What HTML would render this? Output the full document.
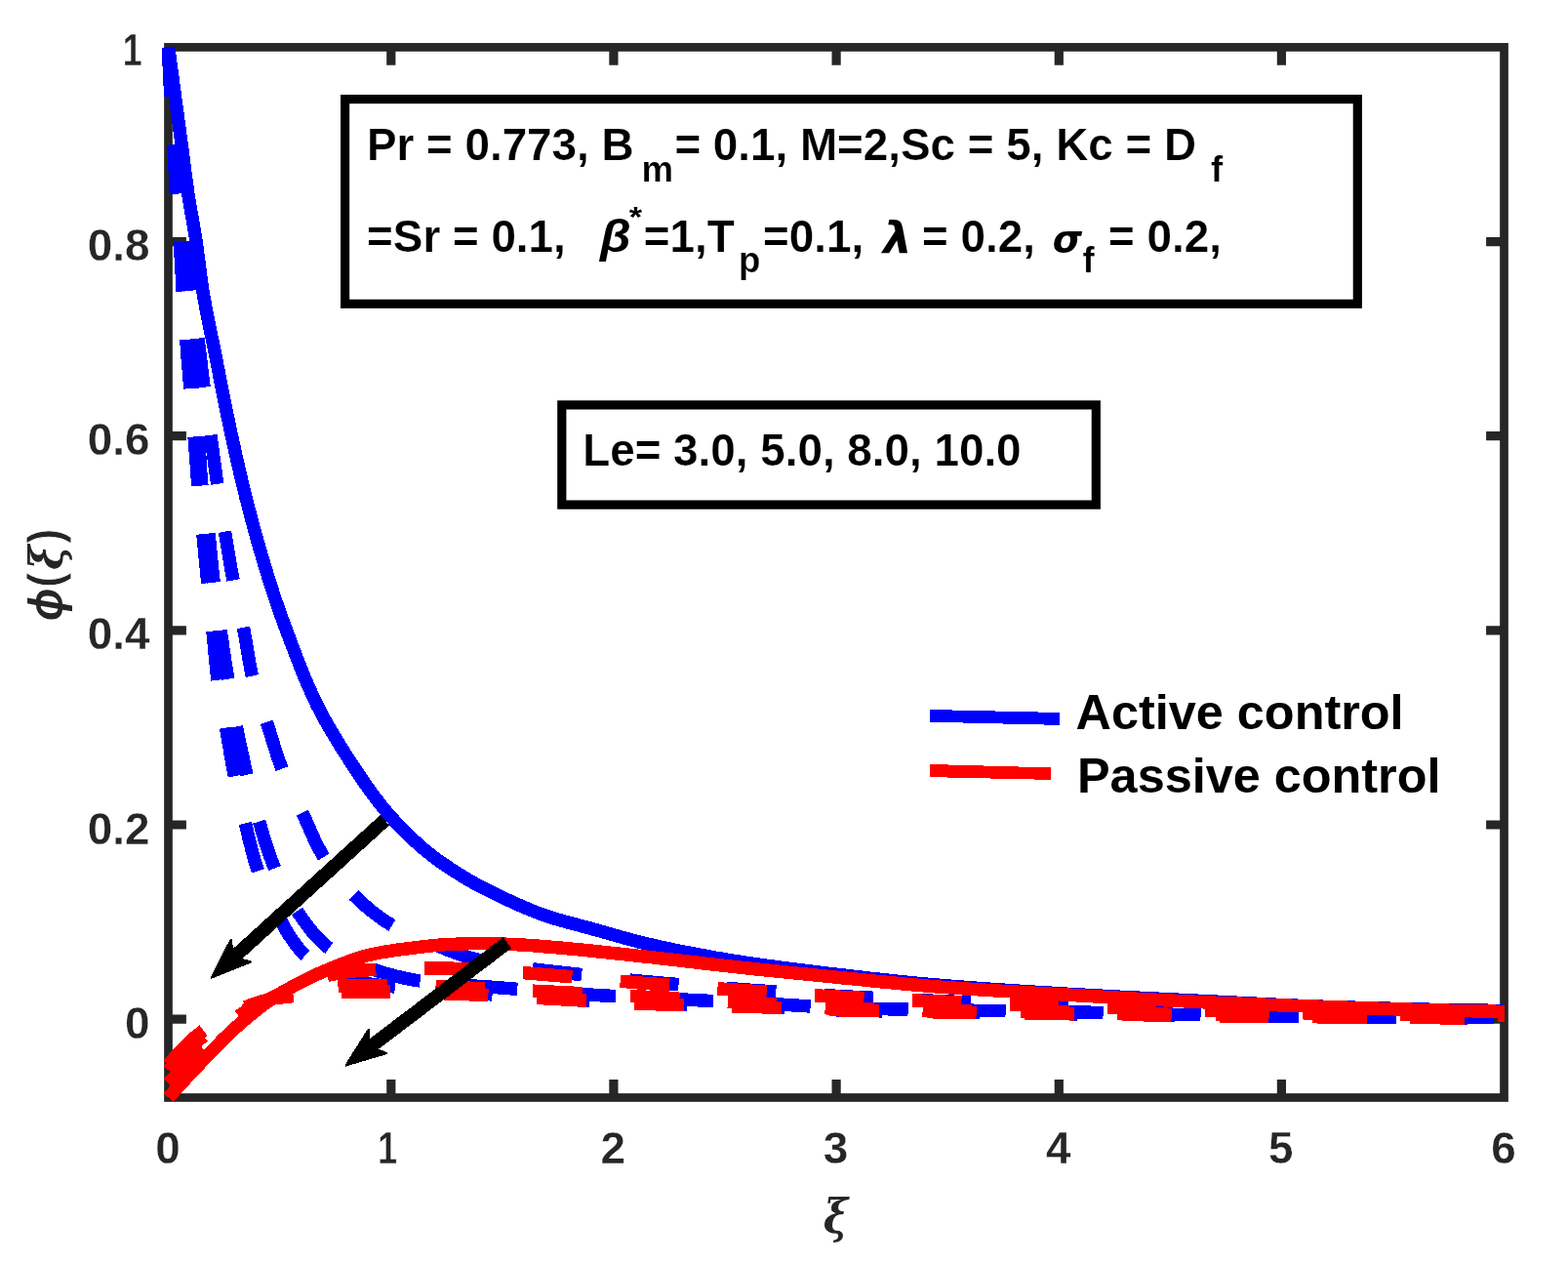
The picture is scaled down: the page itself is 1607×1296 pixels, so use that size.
<!DOCTYPE html>
<html lang="en"><head><meta charset="utf-8"><title>Concentration profile</title>
<style>
html,body{margin:0;padding:0;background:#fff;}
body{width:1607px;height:1296px;overflow:hidden;}
svg{display:block;}
text{font-family:"Liberation Sans","DejaVu Sans",sans-serif;font-weight:bold;}
.tk{font-size:45.8px;fill:#262626;}
.an{font-size:45.8px;fill:#000;}
.sb{font-size:36.7px;fill:#000;}
.lg{font-size:50.4px;fill:#000;}
.gr{font-style:italic;}
.an,.sb{stroke:#fff;stroke-width:0.2px;paint-order:fill stroke;}
.tk{stroke:#fff;stroke-width:0.3px;paint-order:fill stroke;}
.c{fill:none;stroke-width:13.5;stroke-linecap:butt;stroke-linejoin:round;shape-rendering:crispEdges;}
.ce{shape-rendering:crispEdges;}
.b{stroke:#0000ff;}.r{stroke:#ff0000;}
.d{stroke-dasharray:50.5 49.5;}
</style></head><body>
<svg width="1607" height="1296" viewBox="0 0 1607 1296">
<rect x="0" y="0" width="1607" height="1296" fill="#fff"/>
<g stroke="#262626" stroke-width="8.7" fill="none" stroke-linecap="butt">
<rect x="172.5" y="48.4" width="1369" height="1076.1"/>
<path stroke-width="9.2" d="M400.8 1124.5V1106.1M400.8 48.4V66.8M628.9 1124.5V1106.1M628.9 48.4V66.8M857.1 1124.5V1106.1M857.1 48.4V66.8M1085.3 1124.5V1106.1M1085.3 48.4V66.8M1313.4 1124.5V1106.1M1313.4 48.4V66.8M172.5 1044.2H190.9M1541.5 1044.2H1523.1M172.5 845H190.9M1541.5 845H1523.1M172.5 645.9H190.9M1541.5 645.9H1523.1M172.5 446.7H190.9M1541.5 446.7H1523.1M172.5 247.6H190.9M1541.5 247.6H1523.1"/>
</g>
<polyline class="c b" points="172.6,48.4 173.1,52.4 173.7,56.3 174.2,60.3 174.8,64.3 175.3,68.2 175.8,72.2 176.4,76.1 176.9,80.1 177.5,84.1 178,88 178.5,92 179.1,96 179.6,99.9 180.2,103.9 180.7,107.9 181.2,111.8 181.8,115.8 182.3,119.7 182.8,123.7 183.4,127.7 183.9,131.6 184.4,135.6 185,139.6 185.5,143.5 186,147.5 186.6,151.5 187.1,155.4 187.6,159.4 188.1,163.4 188.6,167.3 189.1,171.3 189.6,175.3 190.2,179.2 190.7,183.2 191.2,187.2 191.8,191.1 192.3,195.1 192.9,199 193.5,203 194.1,206.9 194.8,210.9 195.5,214.8 196.2,218.8 196.9,222.7 197.6,226.6 198.3,230.6 198.9,234.5 199.6,238.5 200.2,242.4 200.9,246.4 201.4,250.3 202,254.3 202.5,258.3 203.1,262.2 203.6,266.2 204.1,270.2 204.6,274.1 205.1,278.1 205.6,282.1 206.1,286 206.7,290 207.2,294 207.8,297.9 208.5,301.8 209.2,305.8 209.9,309.7 210.6,313.7 211.3,317.6 212.1,321.5 212.9,325.4 213.7,329.3 214.5,333.3 215.3,337.2 216.1,341.1 216.9,345 217.8,348.9 218.6,352.9 219.4,356.8 220.1,360.7 220.9,364.6 221.7,368.6 222.4,372.5 223.2,376.4 224,380.3 224.7,384.3 225.5,388.2 226.3,392.1 227,396 227.8,400 228.6,403.9 229.4,407.8 230.1,411.7 230.9,415.7 231.7,419.6 232.5,423.5 233.4,427.4 234.2,431.3 235,435.2 235.8,439.2 236.7,443.1 237.5,447 238.4,450.9 239.2,454.8 240.1,458.7 240.9,462.6 241.8,466.5 242.7,470.4 243.6,474.3 244.5,478.2 245.4,482.1 246.3,486 247.2,489.9 248.1,493.8 249.1,497.7 250,501.6 251,505.5 251.9,509.3 252.9,513.2 253.9,517.1 254.9,521 255.9,524.8 256.9,528.7 257.9,532.6 259,536.4 260,540.3 261.1,544.2 262.2,548 263.2,551.9 264.3,555.7 265.4,559.6 266.5,563.4 267.6,567.3 268.8,571.1 269.9,574.9 271,578.8 272.2,582.6 273.4,586.4 274.5,590.3 275.7,594.1 276.9,597.9 278.2,601.7 279.4,605.5 280.6,609.3 281.9,613.1 283.2,616.9 284.5,620.6 285.8,624.4 287.1,628.2 288.5,632 289.8,635.7 291.2,639.5 292.6,643.2 294,647 295.4,650.7 296.8,654.5 298.2,658.2 299.6,662 301.1,665.7 302.5,669.4 303.9,673.2 305.4,676.9 306.8,680.6 308.3,684.3 309.8,688.1 311.3,691.8 312.8,695.5 314.4,699.2 316,702.8 317.6,706.5 319.2,710.1 320.9,713.8 322.6,717.4 324.3,721 326.1,724.6 327.9,728.2 329.7,731.7 331.6,735.2 333.6,738.7 335.6,742.2 337.6,745.6 339.6,749.1 341.7,752.5 343.8,756 345.8,759.4 347.9,762.8 350,766.2 352.2,769.6 354.3,772.9 356.5,776.3 358.6,779.7 360.8,783 363,786.4 365.2,789.7 367.5,793 369.7,796.4 371.9,799.7 374.2,802.9 376.5,806.2 378.9,809.5 381.2,812.7 383.6,815.9 386,819.1 388.5,822.3 390.9,825.4 393.5,828.6 396,831.6 398.6,834.6 401.3,837.6 404,840.5 406.7,843.5 409.5,846.4 412.3,849.3 415.1,852.1 418,854.9 420.9,857.7 423.8,860.5 426.8,863.2 429.7,865.9 432.8,868.5 435.8,871.1 438.9,873.6 442,876 445.1,878.4 448.3,880.8 451.6,883.2 454.9,885.5 458.2,887.7 461.5,890 464.9,892.2 468.3,894.3 471.7,896.4 475.1,898.5 478.6,900.5 482,902.5 485.5,904.5 489,906.4 492.5,908.3 496.1,910.2 499.6,912 503.2,913.8 506.8,915.6 510.4,917.3 514,919.1 517.7,920.8 521.3,922.4 524.9,924.1 528.6,925.7 532.2,927.4 535.9,929 539.6,930.6 543.3,932.1 547,933.6 550.7,935.1 554.5,936.5 558.2,937.8 562,939.1 565.8,940.3 569.6,941.5 573.4,942.6 577.3,943.7 581.1,944.7 585,945.8 588.9,946.8 592.8,947.8 596.6,948.9 600.5,949.9 604.4,950.9 608.2,952 612.1,953 616,954.1 619.8,955.2 623.6,956.3 627.5,957.4 631.3,958.5 635.2,959.6 639,960.7 642.9,961.8 646.8,962.8 650.6,963.8 654.5,964.8 658.4,965.8 662.3,966.7 666.2,967.6 670.1,968.5 674,969.4 677.9,970.3 681.8,971.1 685.7,972 689.6,972.8 693.5,973.6 697.4,974.4 701.4,975.2 705.3,975.9 709.2,976.7 713.2,977.4 717.1,978.2 721,978.9 724.9,979.6 728.9,980.4 732.8,981.1 736.8,981.7 740.7,982.4 744.7,983.1 748.6,983.7 752.5,984.4 756.5,985 760.5,985.6 764.4,986.2 768.4,986.8 772.3,987.4 776.3,987.9 780.2,988.5 784.2,989 788.2,989.6 792.1,990.1 796.1,990.7 800.1,991.2 804,991.7 808,992.2 812,992.7 815.9,993.2 819.9,993.7 823.9,994.2 827.8,994.7 831.8,995.2 835.8,995.7 839.8,996.2 843.7,996.6 847.7,997.1 851.7,997.6 855.6,998 859.6,998.5 863.6,999 867.6,999.4 871.5,999.9 875.5,1000.3 879.5,1000.8 883.5,1001.3 887.4,1001.7 891.4,1002.2 895.4,1002.6 899.4,1003 903.3,1003.5 907.3,1003.9 911.3,1004.4 915.3,1004.8 919.3,1005.2 923.2,1005.6 927.2,1006 931.2,1006.4 935.2,1006.8 939.2,1007.2 943.1,1007.6 947.1,1007.9 951.1,1008.3 955.1,1008.7 959.1,1009 963,1009.3 967,1009.7 971,1010 975,1010.3 979,1010.6 983,1010.9 987,1011.2 991,1011.5 994.9,1011.8 998.9,1012.1 1002.9,1012.4 1006.9,1012.7 1010.9,1013 1014.9,1013.3 1018.9,1013.5 1022.9,1013.8 1026.9,1014.1 1030.9,1014.3 1034.9,1014.6 1038.9,1014.9 1042.8,1015.1 1046.8,1015.4 1050.8,1015.6 1054.8,1015.9 1058.8,1016.1 1062.8,1016.4 1066.8,1016.6 1070.8,1016.9 1074.8,1017.1 1078.8,1017.3 1082.8,1017.6 1086.8,1017.8 1090.8,1018 1094.7,1018.3 1098.7,1018.5 1102.7,1018.7 1106.7,1019 1110.7,1019.2 1114.7,1019.4 1118.7,1019.6 1122.7,1019.9 1126.7,1020.1 1130.7,1020.3 1134.7,1020.5 1138.7,1020.7 1142.7,1020.9 1146.7,1021.2 1150.7,1021.4 1154.7,1021.6 1158.6,1021.8 1162.6,1022 1166.6,1022.2 1170.6,1022.4 1174.6,1022.6 1178.6,1022.8 1182.6,1023 1186.6,1023.2 1190.6,1023.4 1194.6,1023.6 1198.6,1023.8 1202.6,1024 1206.6,1024.2 1210.6,1024.4 1214.6,1024.6 1218.6,1024.8 1222.6,1025 1226.6,1025.2 1230.6,1025.4 1234.6,1025.6 1238.6,1025.8 1242.5,1026 1246.5,1026.2 1250.5,1026.4 1254.5,1026.6 1258.5,1026.8 1262.5,1027 1266.5,1027.2 1270.5,1027.4 1274.5,1027.6 1278.5,1027.8 1282.5,1028 1286.5,1028.2 1290.5,1028.4 1294.5,1028.6 1298.5,1028.8 1302.5,1029 1306.5,1029.2 1310.5,1029.4 1314.5,1029.6 1318.5,1029.8 1322.5,1029.9 1326.4,1030.1 1330.4,1030.3 1334.4,1030.5 1338.4,1030.6 1342.4,1030.8 1346.4,1030.9 1350.4,1031.1 1354.4,1031.2 1358.4,1031.4 1362.4,1031.5 1366.4,1031.6 1370.4,1031.7 1374.4,1031.8 1378.4,1032 1382.4,1032.1 1386.4,1032.2 1390.4,1032.3 1394.4,1032.4 1398.4,1032.6 1402.4,1032.7 1406.4,1032.8 1410.4,1032.9 1414.4,1033 1418.4,1033.1 1422.4,1033.2 1426.4,1033.3 1430.4,1033.4 1434.4,1033.5 1438.4,1033.6 1442.4,1033.7 1446.4,1033.8 1450.4,1033.9 1454.4,1034 1458.4,1034.1 1462.4,1034.2 1466.4,1034.3 1470.4,1034.4 1474.4,1034.5 1478.4,1034.5 1482.4,1034.6 1486.4,1034.7 1490.4,1034.8 1494.4,1034.8 1498.4,1034.9 1502.4,1035 1506.4,1035 1510.4,1035.1 1514.4,1035.1 1518.4,1035.2 1522.4,1035.2 1526.4,1035.3 1530.4,1035.3 1534.4,1035.3 1538.4,1035.4 1541.5,1035.4"/>
<polyline class="c b" stroke-dasharray="50.5 49.5 50.5 49.5 50.5 49.5 50.5 49.5 50.5 49.5 50.5 49.5 50.5 49.5 50.5 49.5 50.5 49.5 50.5 49.5 50.5 51.9 50.5 49.5 50.5 49.5 50.5 49.5 50.5 49.5 50.5 49.5 50.5 49.5 50.5 49.5 50.5 49.5 50.5 49.5 50.5 49.5 50.5 49.5" points="172.6,48.4 172.7,52.4 172.9,56.4 173,60.4 173.1,64.4 173.3,68.5 173.5,72.5 173.7,76.5 173.9,80.5 174.1,84.5 174.3,88.5 174.5,92.5 174.7,96.5 175,100.5 175.2,104.5 175.5,108.5 175.8,112.5 176,116.5 176.3,120.5 176.6,124.5 176.9,128.5 177.2,132.5 177.5,136.4 177.9,140.4 178.2,144.4 178.5,148.4 178.9,152.4 179.2,156.4 179.6,160.4 179.9,164.4 180.3,168.3 180.7,172.3 181.1,176.3 181.5,180.3 181.8,184.3 182.2,188.2 182.7,192.2 183.1,196.2 183.5,200.2 183.9,204.2 184.3,208.1 184.8,212.1 185.2,216.1 185.6,220.1 186.1,224 186.5,228 187,232 187.4,235.9 187.9,239.9 188.3,243.9 188.8,247.9 189.3,251.8 189.7,255.8 190.2,259.8 190.7,263.7 191.2,267.7 191.6,271.7 192.1,275.6 192.6,279.6 193.1,283.5 193.6,287.5 194.1,291.5 194.5,295.4 195,299.4 195.6,303.4 196.2,307.3 196.8,311.3 197.4,315.2 198.1,319.1 198.8,323.1 199.5,327 200.2,331 200.9,334.9 201.6,338.9 202.2,342.8 202.8,346.8 203.4,350.7 203.9,354.7 204.4,358.7 204.9,362.6 205.4,366.6 205.9,370.6 206.3,374.5 206.8,378.5 207.3,382.5 207.8,386.5 208.2,390.4 208.7,394.4 209.2,398.4 209.8,402.3 210.3,406.3 210.8,410.3 211.4,414.2 211.9,418.2 212.5,422.1 213.1,426.1 213.6,430.1 214.2,434 214.7,438 215.3,441.9 215.8,445.9 216.4,449.9 216.9,453.8 217.5,457.8 218,461.8 218.5,465.7 219.1,469.7 219.6,473.7 220.2,477.6 220.7,481.6 221.3,485.5 221.8,489.5 222.4,493.5 223,497.4 223.6,501.4 224.1,505.3 224.8,509.3 225.4,513.2 226,517.2 226.6,521.1 227.2,525.1 227.9,529 228.5,533 229.2,536.9 229.8,540.9 230.5,544.8 231.1,548.8 231.8,552.7 232.4,556.7 233.1,560.6 233.7,564.6 234.4,568.5 235.1,572.5 235.8,576.4 236.4,580.3 237.1,584.3 237.9,588.2 238.6,592.1 239.3,596.1 240.1,600 240.9,603.9 241.7,607.8 242.6,611.7 243.4,615.6 244.3,619.5 245.2,623.5 246,627.4 246.9,631.3 247.8,635.2 248.6,639.1 249.4,643 250.2,646.9 250.9,650.9 251.6,654.8 252.3,658.8 253,662.7 253.6,666.7 254.3,670.6 254.9,674.6 255.6,678.5 256.4,682.4 257.1,686.4 257.9,690.3 258.8,694.1 259.7,698 260.8,701.9 261.9,705.7 263.1,709.5 264.3,713.3 265.6,717.1 266.9,720.9 268.2,724.7 269.5,728.5 270.8,732.3 272.1,736.1 273.4,739.9 274.6,743.7 275.8,747.5 277,751.3 278.2,755.2 279.4,759 280.5,762.8 281.7,766.6 283,770.5 284.2,774.3 285.5,778.1 286.8,781.8 288.2,785.6 289.6,789.3 291.1,793 292.6,796.7 294.2,800.3 295.9,803.9 297.6,807.6 299.3,811.2 301.1,814.8 302.9,818.4 304.6,822 306.4,825.6 308.2,829.2 309.9,832.8 311.6,836.4 313.3,840.1 314.9,843.7 316.6,847.4 318.2,851.1 319.9,854.8 321.5,858.4 323.2,862.1 325,865.7 326.8,869.2 328.7,872.7 330.6,876.1 332.6,879.5 334.8,882.9 337,886.2 339.3,889.5 341.6,892.7 344.1,896 346.6,899.2 349.1,902.3 351.7,905.4 354.4,908.4 357.1,911.4 359.8,914.3 362.6,917.1 365.4,919.8 368.3,922.6 371.2,925.3 374.3,927.9 377.3,930.6 380.5,933.2 383.7,935.7 386.9,938.1 390.2,940.5 393.5,942.8 396.8,944.9 400.2,947 403.5,949 407,950.9 410.5,952.7 414.1,954.4 417.7,956.1 421.4,957.7 425.1,959.3 428.9,960.8 432.6,962.3 436.3,963.8 440.1,965.3 443.8,966.9 447.5,968.4 451.2,970 454.9,971.5 458.6,973.1 462.3,974.5 466,975.9 469.8,977.2 473.6,978.5 477.4,979.7 481.2,980.9 485.1,981.9 489,982.9 492.9,983.9 496.8,984.8 500.7,985.6 504.6,986.4 508.5,987.2 512.4,987.9 516.4,988.6 520.3,989.3 524.3,989.9 528.2,990.5 532.2,991.1 536.2,991.7 540.1,992.2 544.1,992.7 548.1,993.1 552,993.6 556,994.1 560,994.5 564,994.9 567.9,995.4 571.9,995.8 575.9,996.3 579.9,996.8 583.8,997.2 587.8,997.7 591.8,998.1 595.8,998.6 599.7,999 603.7,999.5 607.7,1000 611.7,1000.4 615.6,1000.8 619.6,1001.3 623.6,1001.7 627.6,1002.2 631.5,1002.6 635.5,1003 639.5,1003.4 643.5,1003.8 647.5,1004.2 651.4,1004.6 655.4,1005 659.4,1005.4 663.4,1005.7 667.4,1006.1 671.3,1006.5 675.3,1006.8 679.3,1007.2 683.3,1007.5 687.3,1007.9 691.3,1008.2 695.3,1008.5 699.2,1008.9 703.2,1009.2 707.2,1009.5 711.2,1009.8 715.2,1010.1 719.2,1010.4 723.2,1010.8 727.2,1011.1 731.1,1011.4 735.1,1011.7 739.1,1012 743.1,1012.3 747.1,1012.6 751.1,1012.9 755.1,1013.2 759.1,1013.5 763.1,1013.8 767,1014.1 771,1014.4 775,1014.6 779,1014.9 783,1015.2 787,1015.5 791,1015.8 795,1016.1 799,1016.4 803,1016.7 806.9,1017 810.9,1017.3 814.9,1017.6 818.9,1017.9 822.9,1018.2 826.9,1018.4 830.9,1018.7 834.9,1019 838.9,1019.2 842.9,1019.5 846.8,1019.7 850.8,1020 854.8,1020.2 858.8,1020.4 862.8,1020.7 866.8,1020.9 870.8,1021.1 874.8,1021.3 878.8,1021.5 882.8,1021.7 886.8,1021.9 890.8,1022.1 894.8,1022.3 898.8,1022.5 902.8,1022.7 906.8,1022.9 910.7,1023.1 914.7,1023.3 918.7,1023.5 922.7,1023.7 926.7,1023.9 930.7,1024.1 934.7,1024.3 938.7,1024.5 942.7,1024.7 946.7,1024.9 950.7,1025 954.7,1025.2 958.7,1025.4 962.7,1025.6 966.7,1025.8 970.7,1025.9 974.7,1026.1 978.7,1026.3 982.7,1026.5 986.7,1026.6 990.7,1026.8 994.7,1027 998.7,1027.1 1002.7,1027.3 1006.7,1027.5 1010.6,1027.6 1014.6,1027.8 1018.6,1028 1022.6,1028.1 1026.6,1028.3 1030.6,1028.4 1034.6,1028.6 1038.6,1028.8 1042.6,1028.9 1046.6,1029.1 1050.6,1029.2 1054.6,1029.4 1058.6,1029.5 1062.6,1029.7 1066.6,1029.8 1070.6,1030 1074.6,1030.1 1078.6,1030.3 1082.6,1030.4 1086.6,1030.5 1090.6,1030.7 1094.6,1030.8 1098.6,1031 1102.6,1031.1 1106.6,1031.2 1110.6,1031.4 1114.6,1031.5 1118.6,1031.6 1122.6,1031.8 1126.6,1031.9 1130.6,1032 1134.6,1032.2 1138.6,1032.3 1142.6,1032.4 1146.6,1032.6 1150.6,1032.7 1154.6,1032.8 1158.6,1033 1162.6,1033.1 1166.6,1033.2 1170.6,1033.3 1174.6,1033.5 1178.6,1033.6 1182.6,1033.7 1186.5,1033.8 1190.5,1034 1194.5,1034.1 1198.5,1034.2 1202.5,1034.3 1206.5,1034.4 1210.5,1034.6 1214.5,1034.7 1218.5,1034.8 1222.5,1034.9 1226.5,1035 1230.5,1035.1 1234.5,1035.3 1238.5,1035.4 1242.5,1035.5 1246.5,1035.6 1250.5,1035.7 1254.5,1035.8 1258.5,1035.9 1262.5,1036 1266.5,1036.1 1270.5,1036.2 1274.5,1036.3 1278.5,1036.4 1282.5,1036.6 1286.5,1036.7 1290.5,1036.7 1294.5,1036.8 1298.5,1036.9 1302.5,1037 1306.5,1037.1 1310.5,1037.2 1314.5,1037.3 1318.5,1037.4 1322.5,1037.5 1326.5,1037.6 1330.5,1037.6 1334.5,1037.7 1338.5,1037.8 1342.5,1037.9 1346.5,1038 1350.5,1038 1354.5,1038.1 1358.5,1038.2 1362.5,1038.2 1366.5,1038.3 1370.5,1038.4 1374.5,1038.4 1378.5,1038.5 1382.5,1038.6 1386.5,1038.6 1390.5,1038.7 1394.5,1038.8 1398.5,1038.8 1402.5,1038.9 1406.5,1039 1410.5,1039 1414.5,1039.1 1418.5,1039.1 1422.5,1039.2 1426.5,1039.3 1430.5,1039.3 1434.5,1039.4 1438.5,1039.4 1442.5,1039.5 1446.5,1039.5 1450.5,1039.6 1454.5,1039.6 1458.5,1039.7 1462.5,1039.7 1466.5,1039.8 1470.5,1039.8 1474.5,1039.9 1478.5,1039.9 1482.5,1040 1486.5,1040 1490.5,1040.1 1494.5,1040.1 1498.5,1040.1 1502.5,1040.2 1506.5,1040.2 1510.5,1040.3 1514.5,1040.3 1518.5,1040.3 1522.5,1040.4 1526.5,1040.4 1530.5,1040.4 1534.5,1040.5 1538.5,1040.5 1541.5,1040.5"/>
<polyline class="c b" stroke-dasharray="50.5 49.5 50.5 49.5 50.5 49.5 50.5 49.5 50.5 49.5 50.5 49.5 50.5 49.5 50.5 49.5 50.5 49.5 50.5 49.5 50.5 49.5 50.5 50.5 50.5 49.5 50.5 49.5 50.5 49.5 50.5 49.5 50.5 49.5 50.5 49.5 50.5 49.5 50.5 49.5 50.5 49.5 50.5 49.5 50.5 49.5" points="172.6,48.4 172.9,52.4 173.2,56.4 173.5,60.4 173.8,64.4 174.1,68.3 174.4,72.3 174.7,76.3 175,80.3 175.3,84.3 175.5,88.3 175.8,92.3 176.1,96.3 176.4,100.3 176.7,104.2 177,108.2 177.3,112.2 177.6,116.2 177.9,120.2 178.2,124.2 178.5,128.2 178.8,132.2 179.1,136.2 179.4,140.1 179.7,144.1 180,148.1 180.3,152.1 180.6,156.1 180.9,160.1 181.2,164.1 181.6,168.1 181.9,172.1 182.2,176 182.5,180 182.8,184 183.1,188 183.4,192 183.7,196 184,200 184.3,204 184.6,207.9 184.9,211.9 185.2,215.9 185.5,219.9 185.8,223.9 186.1,227.9 186.4,231.9 186.8,235.9 187.1,239.9 187.4,243.8 187.7,247.8 188,251.8 188.3,255.8 188.6,259.8 188.9,263.8 189.2,267.8 189.5,271.8 189.8,275.7 190.2,279.7 190.5,283.7 190.8,287.7 191.1,291.7 191.4,295.7 191.7,299.7 192,303.7 192.3,307.7 192.6,311.6 193,315.6 193.3,319.6 193.6,323.6 193.9,327.6 194.2,331.6 194.5,335.6 194.8,339.6 195.1,343.5 195.5,347.5 195.8,351.5 196.1,355.5 196.4,359.5 196.7,363.5 197,367.5 197.4,371.5 197.7,375.4 198,379.4 198.3,383.4 198.6,387.4 199,391.4 199.3,395.4 199.6,399.4 199.9,403.3 200.3,407.3 200.6,411.3 200.9,415.3 201.3,419.3 201.6,423.3 201.9,427.3 202.3,431.3 202.6,435.2 202.9,439.2 203.2,443.2 203.5,447.2 203.8,451.2 204.1,455.2 204.3,459.2 204.5,463.2 204.8,467.2 205,471.2 205.2,475.2 205.5,479.2 205.7,483.2 206,487.1 206.3,491.1 206.6,495.1 207,499.1 207.4,503.1 207.9,507 208.5,511 209,514.9 209.6,518.9 210.3,522.8 210.9,526.8 211.5,530.8 212.1,534.7 212.7,538.7 213.3,542.6 213.8,546.6 214.3,550.6 214.8,554.5 215.2,558.5 215.6,562.5 216,566.5 216.4,570.5 216.8,574.4 217.2,578.4 217.6,582.4 218,586.4 218.4,590.4 218.9,594.3 219.4,598.3 219.9,602.3 220.4,606.2 220.9,610.2 221.5,614.2 222,618.1 222.6,622.1 223.2,626 223.8,630 224.4,634 225,637.9 225.5,641.9 226.1,645.8 226.7,649.8 227.3,653.7 227.9,657.7 228.4,661.7 229,665.6 229.6,669.6 230.2,673.5 230.8,677.5 231.4,681.4 232.1,685.4 232.7,689.3 233.3,693.3 234,697.2 234.6,701.2 235.3,705.1 236,709.1 236.6,713 237.3,716.9 238,720.9 238.7,724.8 239.4,728.8 240.2,732.7 240.9,736.6 241.6,740.6 242.4,744.5 243.2,748.4 243.9,752.3 244.7,756.3 245.5,760.2 246.3,764.1 247.2,768 248,771.9 248.9,775.8 249.7,779.7 250.6,783.6 251.5,787.5 252.4,791.4 253.3,795.3 254.3,799.2 255.2,803.1 256.2,807 257.2,810.9 258.2,814.7 259.2,818.6 260.2,822.5 261.3,826.3 262.3,830.2 263.4,834 264.5,837.9 265.7,841.7 266.8,845.5 267.9,849.4 269.1,853.2 270.2,857.1 271.4,860.9 272.6,864.7 273.9,868.6 275.1,872.4 276.4,876.1 277.8,879.9 279.2,883.6 280.6,887.3 282.1,891 283.7,894.7 285.3,898.3 287,902 288.7,905.6 290.5,909.3 292.4,912.8 294.3,916.4 296.3,919.9 298.3,923.4 300.3,926.8 302.4,930.2 304.6,933.5 306.8,936.8 309.1,940.1 311.4,943.4 313.9,946.7 316.4,950 318.9,953.3 321.6,956.4 324.3,959.5 327,962.4 329.9,965.2 332.8,967.9 335.7,970.3 338.8,972.5 341.9,974.6 345.2,976.7 348.6,978.7 352.1,980.6 355.7,982.4 359.4,984.2 363.2,985.8 367,987.4 370.8,989 374.6,990.4 378.4,991.8 382.3,993.1 386.1,994.4 389.8,995.5 393.6,996.7 397.5,997.8 401.3,998.9 405.2,999.9 409.2,1000.9 413.1,1001.8 417,1002.6 421,1003.4 424.9,1004.1 428.8,1004.7 432.8,1005.2 436.7,1005.7 440.7,1006.2 444.6,1006.6 448.6,1007 452.6,1007.4 456.5,1007.8 460.5,1008.1 464.5,1008.5 468.5,1008.8 472.5,1009.1 476.5,1009.4 480.5,1009.7 484.5,1010 488.5,1010.2 492.5,1010.5 496.5,1010.8 500.5,1011.1 504.5,1011.3 508.5,1011.6 512.5,1011.9 516.5,1012.2 520.5,1012.5 524.5,1012.9 528.5,1013.2 532.4,1013.5 536.4,1013.8 540.4,1014.2 544.4,1014.5 548.4,1014.8 552.4,1015.1 556.4,1015.4 560.4,1015.8 564.3,1016.1 568.3,1016.4 572.3,1016.7 576.3,1017 580.3,1017.3 584.3,1017.6 588.3,1017.9 592.3,1018.2 596.3,1018.5 600.2,1018.7 604.2,1019 608.2,1019.3 612.2,1019.5 616.2,1019.8 620.2,1020 624.2,1020.2 628.2,1020.5 632.2,1020.7 636.2,1020.9 640.2,1021.1 644.2,1021.3 648.2,1021.5 652.2,1021.7 656.2,1021.9 660.1,1022.1 664.1,1022.3 668.1,1022.5 672.1,1022.7 676.1,1022.9 680.1,1023.1 684.1,1023.3 688.1,1023.4 692.1,1023.6 696.1,1023.8 700.1,1024 704.1,1024.2 708.1,1024.4 712.1,1024.6 716.1,1024.8 720.1,1025 724.1,1025.2 728.1,1025.4 732.1,1025.6 736.1,1025.8 740.1,1026 744.1,1026.2 748,1026.4 752,1026.6 756,1026.8 760,1027 764,1027.2 768,1027.4 772,1027.6 776,1027.8 780,1028 784,1028.2 788,1028.4 792,1028.6 796,1028.8 800,1029.1 804,1029.3 808,1029.6 812,1029.8 816,1030.1 819.9,1030.3 823.9,1030.6 827.9,1030.8 831.9,1031.1 835.9,1031.3 839.9,1031.5 843.9,1031.7 847.9,1031.9 851.9,1032.1 855.9,1032.3 859.9,1032.4 863.9,1032.5 867.9,1032.6 871.9,1032.8 875.9,1032.9 879.9,1033 883.9,1033.1 887.9,1033.2 891.9,1033.3 895.9,1033.4 899.9,1033.5 903.9,1033.6 907.9,1033.7 911.9,1033.8 915.8,1033.8 919.8,1033.9 923.8,1034 927.8,1034.1 931.8,1034.2 935.8,1034.3 939.8,1034.3 943.8,1034.4 947.8,1034.5 951.8,1034.5 955.8,1034.6 959.8,1034.7 963.8,1034.7 967.8,1034.8 971.8,1034.9 975.8,1034.9 979.8,1035 983.8,1035.1 987.8,1035.1 991.8,1035.2 995.8,1035.2 999.8,1035.3 1003.8,1035.4 1007.8,1035.4 1011.8,1035.5 1015.8,1035.5 1019.8,1035.6 1023.8,1035.7 1027.8,1035.7 1031.8,1035.8 1035.8,1035.8 1039.8,1035.9 1043.8,1036 1047.8,1036 1051.8,1036.1 1055.8,1036.1 1059.8,1036.2 1063.8,1036.3 1067.8,1036.3 1071.8,1036.4 1075.8,1036.5 1079.8,1036.5 1083.8,1036.6 1087.8,1036.7 1091.8,1036.7 1095.8,1036.8 1099.8,1036.9 1103.8,1037 1107.8,1037.1 1111.8,1037.1 1115.8,1037.2 1119.8,1037.3 1123.8,1037.4 1127.8,1037.5 1131.8,1037.6 1135.8,1037.7 1139.8,1037.8 1143.8,1037.9 1147.8,1038 1151.8,1038.1 1155.8,1038.2 1159.8,1038.3 1163.8,1038.4 1167.8,1038.5 1171.8,1038.6 1175.8,1038.7 1179.8,1038.8 1183.8,1038.9 1187.8,1038.9 1191.8,1039 1195.8,1039.1 1199.8,1039.2 1203.8,1039.3 1207.8,1039.4 1211.8,1039.4 1215.8,1039.5 1219.8,1039.6 1223.8,1039.7 1227.8,1039.7 1231.8,1039.8 1235.8,1039.9 1239.8,1039.9 1243.8,1040 1247.8,1040.1 1251.8,1040.1 1255.8,1040.2 1259.8,1040.2 1263.8,1040.3 1267.8,1040.4 1271.8,1040.4 1275.8,1040.5 1279.8,1040.5 1283.8,1040.6 1287.8,1040.7 1291.8,1040.7 1295.8,1040.8 1299.8,1040.8 1303.8,1040.9 1307.8,1040.9 1311.8,1041 1315.8,1041 1319.8,1041.1 1323.8,1041.1 1327.8,1041.2 1331.8,1041.2 1335.8,1041.3 1339.8,1041.3 1343.8,1041.3 1347.8,1041.4 1351.8,1041.4 1355.8,1041.5 1359.8,1041.5 1363.8,1041.5 1367.8,1041.6 1371.8,1041.6 1375.8,1041.6 1379.8,1041.7 1383.8,1041.7 1387.8,1041.7 1391.8,1041.8 1395.8,1041.8 1399.8,1041.8 1403.8,1041.9 1407.8,1041.9 1411.8,1041.9 1415.8,1042 1419.8,1042 1423.8,1042 1427.8,1042.1 1431.8,1042.1 1435.8,1042.1 1439.8,1042.2 1443.8,1042.2 1447.8,1042.2 1451.8,1042.3 1455.8,1042.3 1459.8,1042.3 1463.8,1042.3 1467.8,1042.4 1471.8,1042.4 1475.8,1042.4 1479.8,1042.4 1483.8,1042.5 1487.8,1042.5 1491.8,1042.5 1495.8,1042.5 1499.8,1042.5 1503.8,1042.6 1507.8,1042.6 1511.8,1042.6 1515.8,1042.6 1519.8,1042.6 1523.8,1042.6 1527.8,1042.7 1531.8,1042.7 1535.8,1042.7 1539.8,1042.7 1541.5,1042.7"/>
<polyline class="c b" stroke-dasharray="50.5 49.5 50.5 49.5 50.5 49.5 50.5 49.5 50.5 49.5 50.5 49.5 50.5 49.5 50.5 49.5 50.5 49.5 50.5 49.5 50.5 49.5 50.5 49.5 50.5 49.5 50.5 49.5 50.5 49.5 50.5 49.5 50.5 49.5 50.5 49.5 50.5 49.5 50.5 49.5 50.5 49.5 50.5 49.5 50.5 49.5" points="172.6,48.4 172.8,52.4 173.1,56.4 173.3,60.4 173.5,64.4 173.7,68.4 174,72.4 174.2,76.4 174.4,80.3 174.6,84.3 174.8,88.3 175.1,92.3 175.3,96.3 175.5,100.3 175.7,104.3 175.9,108.3 176.1,112.3 176.3,116.3 176.6,120.3 176.8,124.3 177,128.3 177.2,132.3 177.4,136.3 177.6,140.3 177.8,144.3 178,148.3 178.2,152.2 178.4,156.2 178.6,160.2 178.8,164.2 179,168.2 179.1,172.2 179.3,176.2 179.5,180.2 179.7,184.2 179.9,188.2 180.1,192.2 180.3,196.2 180.6,200.2 180.8,204.2 181.1,208.2 181.4,212.2 181.7,216.1 182.1,220.1 182.4,224.1 182.7,228.1 183,232.1 183.4,236.1 183.7,240.1 184,244.1 184.3,248 184.5,252 184.8,256 185,260 185.3,264 185.5,268 185.7,272 186,276 186.2,280 186.4,284 186.7,288 186.9,292 187.1,296 187.4,300 187.7,303.9 187.9,307.9 188.2,311.9 188.5,315.9 188.8,319.9 189,323.9 189.3,327.9 189.6,331.9 189.9,335.9 190.2,339.9 190.5,343.8 190.8,347.8 191.1,351.8 191.4,355.8 191.7,359.8 192,363.8 192.3,367.8 192.7,371.8 193,375.7 193.3,379.7 193.6,383.7 194,387.7 194.3,391.7 194.6,395.7 194.9,399.7 195.3,403.7 195.6,407.6 196,411.6 196.3,415.6 196.7,419.6 197,423.6 197.3,427.6 197.7,431.5 198,435.5 198.4,439.5 198.7,443.5 199,447.5 199.4,451.5 199.7,455.5 200,459.5 200.3,463.4 200.6,467.4 200.9,471.4 201.2,475.4 201.5,479.4 201.8,483.4 202.1,487.4 202.4,491.4 202.8,495.3 203.1,499.3 203.5,503.3 203.9,507.3 204.2,511.3 204.6,515.3 205,519.2 205.5,523.2 205.9,527.2 206.3,531.2 206.7,535.2 207.1,539.1 207.5,543.1 207.9,547.1 208.3,551.1 208.7,555.1 209.1,559 209.5,563 209.9,567 210.2,571 210.6,575 211,578.9 211.4,582.9 211.8,586.9 212.2,590.9 212.6,594.9 213,598.8 213.4,602.8 213.8,606.8 214.2,610.8 214.6,614.8 215.1,618.7 215.5,622.7 215.9,626.7 216.3,630.7 216.7,634.6 217.1,638.6 217.6,642.6 218,646.6 218.4,650.6 218.7,654.6 219.1,658.5 219.5,662.5 219.8,666.5 220.2,670.5 220.6,674.5 221,678.5 221.4,682.4 221.8,686.4 222.2,690.4 222.7,694.4 223.2,698.3 223.8,702.3 224.4,706.2 225.1,710.2 225.8,714.1 226.5,718 227.2,722 228,725.9 228.7,729.8 229.5,733.8 230.2,737.7 230.9,741.6 231.6,745.6 232.3,749.5 233,753.5 233.7,757.4 234.3,761.4 235,765.3 235.7,769.2 236.3,773.2 237,777.1 237.7,781.1 238.4,785 239.1,788.9 239.9,792.9 240.7,796.8 241.5,800.7 242.3,804.6 243.1,808.5 244,812.4 244.9,816.3 245.8,820.2 246.7,824.1 247.6,828 248.5,831.9 249.5,835.8 250.4,839.7 251.4,843.6 252.3,847.5 253.3,851.4 254.2,855.3 255.1,859.2 256.1,863.1 257.1,867 258,870.9 259.1,874.7 260.1,878.6 261.2,882.4 262.4,886.3 263.6,890 264.8,893.8 266.2,897.5 267.6,901.2 269.1,904.9 270.7,908.6 272.3,912.3 274,915.9 275.8,919.5 277.5,923.2 279.3,926.8 281.1,930.3 283,933.9 284.8,937.5 286.6,941 288.5,944.6 290.4,948.1 292.3,951.6 294.4,955 296.5,958.4 298.8,961.7 301.1,965 303.5,968.3 306,971.5 308.6,974.6 311.3,977.4 314.2,980.1 317.1,982.7 320.2,985.3 323.4,987.9 326.7,990.4 330.1,992.8 333.6,995.1 337.1,997.2 340.7,999.1 344.3,1000.7 348,1002.1 351.6,1003.2 355.3,1004 359.1,1004.9 362.9,1005.6 366.8,1006.3 370.8,1006.9 374.8,1007.5 378.8,1008.1 382.9,1008.6 386.9,1009.1 391,1009.5 395.1,1009.9 399.1,1010.4 403.1,1010.8 407.1,1011.2 411,1011.6 415,1012 419,1012.4 423,1012.8 427,1013.1 430.9,1013.5 434.9,1013.8 438.9,1014.2 442.9,1014.5 446.9,1014.8 450.9,1015.1 454.9,1015.4 458.8,1015.7 462.8,1016 466.8,1016.3 470.8,1016.6 474.8,1016.9 478.8,1017.2 482.8,1017.4 486.8,1017.7 490.8,1018 494.8,1018.3 498.8,1018.5 502.8,1018.8 506.8,1019.1 510.8,1019.3 514.7,1019.6 518.7,1019.9 522.7,1020.2 526.7,1020.5 530.7,1020.8 534.7,1021 538.7,1021.3 542.7,1021.6 546.7,1021.9 550.7,1022.1 554.6,1022.4 558.6,1022.7 562.6,1022.9 566.6,1023.2 570.6,1023.4 574.6,1023.7 578.6,1023.9 582.6,1024.2 586.6,1024.4 590.6,1024.6 594.6,1024.9 598.6,1025.1 602.6,1025.3 606.6,1025.5 610.5,1025.8 614.5,1026 618.5,1026.2 622.5,1026.4 626.5,1026.6 630.5,1026.9 634.5,1027.1 638.5,1027.3 642.5,1027.5 646.5,1027.7 650.5,1027.9 654.5,1028 658.5,1028.2 662.5,1028.4 666.5,1028.5 670.5,1028.7 674.5,1028.8 678.5,1029 682.5,1029.1 686.5,1029.2 690.5,1029.4 694.5,1029.5 698.5,1029.6 702.5,1029.7 706.5,1029.8 710.5,1029.9 714.5,1030 718.5,1030.1 722.5,1030.2 726.5,1030.3 730.4,1030.4 734.4,1030.5 738.4,1030.6 742.4,1030.7 746.4,1030.8 750.4,1030.9 754.4,1031 758.4,1031.1 762.4,1031.2 766.4,1031.3 770.4,1031.4 774.4,1031.5 778.4,1031.7 782.4,1031.8 786.4,1031.9 790.4,1032.1 794.4,1032.2 798.4,1032.4 802.4,1032.6 806.4,1032.7 810.4,1032.9 814.4,1033.1 818.4,1033.3 822.4,1033.4 826.4,1033.6 830.4,1033.8 834.4,1033.9 838.4,1034.1 842.4,1034.2 846.4,1034.4 850.4,1034.5 854.4,1034.6 858.4,1034.8 862.4,1034.9 866.4,1035 870.4,1035.1 874.4,1035.1 878.4,1035.2 882.4,1035.3 886.4,1035.4 890.4,1035.5 894.4,1035.6 898.4,1035.7 902.4,1035.8 906.4,1035.8 910.4,1035.9 914.4,1036 918.4,1036.1 922.4,1036.2 926.4,1036.2 930.4,1036.3 934.3,1036.4 938.3,1036.5 942.3,1036.5 946.3,1036.6 950.3,1036.7 954.3,1036.7 958.3,1036.8 962.3,1036.9 966.3,1036.9 970.3,1037 974.3,1037.1 978.3,1037.1 982.3,1037.2 986.3,1037.3 990.3,1037.3 994.3,1037.4 998.3,1037.4 1002.3,1037.5 1006.3,1037.6 1010.3,1037.6 1014.3,1037.7 1018.3,1037.7 1022.3,1037.8 1026.3,1037.8 1030.3,1037.9 1034.3,1038 1038.3,1038 1042.3,1038.1 1046.3,1038.1 1050.3,1038.2 1054.3,1038.2 1058.3,1038.3 1062.3,1038.3 1066.3,1038.4 1070.3,1038.4 1074.3,1038.5 1078.3,1038.5 1082.3,1038.6 1086.3,1038.6 1090.3,1038.7 1094.3,1038.7 1098.3,1038.8 1102.3,1038.8 1106.3,1038.9 1110.3,1038.9 1114.3,1039 1118.3,1039.1 1122.3,1039.1 1126.3,1039.2 1130.3,1039.2 1134.3,1039.3 1138.3,1039.3 1142.3,1039.4 1146.3,1039.4 1150.3,1039.5 1154.3,1039.5 1158.3,1039.6 1162.3,1039.6 1166.3,1039.7 1170.3,1039.7 1174.3,1039.8 1178.3,1039.9 1182.3,1039.9 1186.3,1040 1190.3,1040 1194.3,1040.1 1198.3,1040.1 1202.3,1040.2 1206.3,1040.2 1210.3,1040.3 1214.3,1040.3 1218.3,1040.4 1222.3,1040.5 1226.3,1040.5 1230.3,1040.6 1234.3,1040.6 1238.3,1040.7 1242.3,1040.7 1246.3,1040.8 1250.3,1040.8 1254.3,1040.9 1258.3,1040.9 1262.3,1041 1266.3,1041 1270.3,1041.1 1274.3,1041.1 1278.3,1041.2 1282.3,1041.2 1286.3,1041.3 1290.3,1041.3 1294.3,1041.4 1298.3,1041.4 1302.3,1041.5 1306.3,1041.5 1310.3,1041.5 1314.3,1041.6 1318.3,1041.6 1322.3,1041.7 1326.3,1041.7 1330.3,1041.7 1334.3,1041.8 1338.3,1041.8 1342.3,1041.9 1346.3,1041.9 1350.3,1041.9 1354.3,1042 1358.3,1042 1362.3,1042 1366.3,1042 1370.3,1042.1 1374.3,1042.1 1378.3,1042.1 1382.3,1042.2 1386.3,1042.2 1390.3,1042.2 1394.3,1042.3 1398.3,1042.3 1402.3,1042.3 1406.3,1042.3 1410.3,1042.4 1414.3,1042.4 1418.3,1042.4 1422.3,1042.4 1426.3,1042.5 1430.3,1042.5 1434.3,1042.5 1438.3,1042.5 1442.3,1042.6 1446.3,1042.6 1450.3,1042.6 1454.3,1042.6 1458.3,1042.7 1462.3,1042.7 1466.3,1042.7 1470.3,1042.7 1474.3,1042.7 1478.3,1042.8 1482.3,1042.8 1486.3,1042.8 1490.3,1042.8 1494.3,1042.8 1498.3,1042.9 1502.3,1042.9 1506.3,1042.9 1510.3,1042.9 1514.3,1042.9 1518.3,1042.9 1522.3,1042.9 1526.3,1043 1530.3,1043 1534.3,1043 1538.3,1043 1541.5,1043"/>
<polyline class="c r" points="172.6,1124.5 175.3,1121.5 178,1118.6 180.7,1115.6 183.4,1112.7 186.1,1109.7 188.8,1106.8 191.5,1103.9 194.3,1100.9 197,1098 199.7,1095.1 202.5,1092.2 205.2,1089.3 208,1086.4 210.8,1083.5 213.5,1080.6 216.2,1077.7 219,1074.8 221.8,1071.9 224.6,1069 227.4,1066.1 230.2,1063.3 233.1,1060.6 236,1057.9 239,1055.2 241.9,1052.5 244.9,1049.8 247.9,1047.2 251,1044.6 254.1,1042 257.1,1039.4 260.3,1036.9 263.4,1034.4 266.6,1031.9 269.8,1029.6 273,1027.2 276.3,1024.9 279.6,1022.7 282.9,1020.6 286.3,1018.5 289.8,1016.4 293.3,1014.4 296.8,1012.5 300.3,1010.5 303.8,1008.7 307.4,1006.8 310.9,1005 314.5,1003.2 318.1,1001.4 321.7,999.7 325.4,998 329,996.4 332.7,994.8 336.4,993.2 340,991.7 343.7,990.2 347.5,988.7 351.2,987.2 355,985.8 358.7,984.4 362.5,983 366.3,981.7 370.1,980.5 374,979.4 377.8,978.4 381.7,977.6 385.6,976.8 389.5,976 393.4,975.3 397.4,974.7 401.3,974.1 405.3,973.5 409.3,972.9 413.3,972.4 417.3,971.9 421.2,971.4 425.2,970.9 429.2,970.4 433.1,969.9 437.1,969.5 441.1,969 445.1,968.6 449.1,968.3 453.1,968 457,967.7 461,967.5 465,967.3 469,967.2 473,967 477,966.8 481,966.7 485,966.6 489,966.6 493,966.6 497,966.6 501,966.7 505,966.8 509,966.9 513,967.1 517,967.2 521,967.3 525,967.5 529,967.7 533,967.9 537,968.1 541,968.4 545,968.7 549,969 552.9,969.3 556.9,969.7 560.9,970 564.9,970.3 568.9,970.6 572.9,971 576.9,971.3 580.8,971.7 584.8,972.1 588.8,972.4 592.8,972.8 596.8,973.2 600.7,973.6 604.7,974 608.7,974.4 612.7,974.9 616.7,975.3 620.6,975.7 624.6,976.1 628.6,976.6 632.6,977 636.6,977.4 640.5,977.8 644.5,978.3 648.5,978.7 652.5,979.1 656.4,979.6 660.4,980 664.4,980.4 668.4,980.8 672.3,981.3 676.3,981.7 680.3,982.2 684.3,982.6 688.2,983.1 692.2,983.5 696.2,984 700.2,984.5 704.1,984.9 708.1,985.4 712.1,985.9 716.1,986.3 720,986.8 724,987.3 728,987.7 732,988.2 735.9,988.6 739.9,989.1 743.9,989.5 747.9,990 751.8,990.4 755.8,990.8 759.8,991.3 763.8,991.7 767.7,992.1 771.7,992.5 775.7,993 779.7,993.4 783.6,993.8 787.6,994.2 791.6,994.6 795.6,995 799.6,995.4 803.5,995.8 807.5,996.2 811.5,996.6 815.5,997 819.5,997.4 823.4,997.8 827.4,998.2 831.4,998.6 835.4,999 839.4,999.4 843.3,999.8 847.3,1000.2 851.3,1000.6 855.3,1001 859.3,1001.4 863.3,1001.8 867.2,1002.2 871.2,1002.5 875.2,1002.9 879.2,1003.3 883.2,1003.8 887.1,1004.2 891.1,1004.6 895.1,1005 899.1,1005.4 903.1,1005.8 907,1006.1 911,1006.5 915,1006.9 919,1007.3 923,1007.7 926.9,1008.1 930.9,1008.4 934.9,1008.8 938.9,1009.1 942.9,1009.5 946.9,1009.8 950.9,1010.2 954.8,1010.5 958.8,1010.8 962.8,1011.1 966.8,1011.4 970.8,1011.7 974.8,1011.9 978.8,1012.2 982.8,1012.5 986.7,1012.8 990.7,1013 994.7,1013.3 998.7,1013.5 1002.7,1013.8 1006.7,1014 1010.7,1014.3 1014.7,1014.5 1018.7,1014.8 1022.7,1015 1026.7,1015.3 1030.7,1015.5 1034.7,1015.7 1038.7,1016 1042.7,1016.2 1046.6,1016.4 1050.6,1016.7 1054.6,1016.9 1058.6,1017.1 1062.6,1017.4 1066.6,1017.6 1070.6,1017.8 1074.6,1018.1 1078.6,1018.3 1082.6,1018.5 1086.6,1018.8 1090.6,1019 1094.6,1019.2 1098.6,1019.5 1102.5,1019.7 1106.5,1019.9 1110.5,1020.2 1114.5,1020.4 1118.5,1020.6 1122.5,1020.9 1126.5,1021.1 1130.5,1021.3 1134.5,1021.6 1138.5,1021.8 1142.5,1022 1146.5,1022.2 1150.5,1022.5 1154.5,1022.7 1158.5,1022.9 1162.5,1023.1 1166.5,1023.4 1170.4,1023.6 1174.4,1023.8 1178.4,1024 1182.4,1024.2 1186.4,1024.4 1190.4,1024.6 1194.4,1024.8 1198.4,1025 1202.4,1025.2 1206.4,1025.4 1210.4,1025.6 1214.4,1025.8 1218.4,1026 1222.4,1026.2 1226.4,1026.4 1230.4,1026.6 1234.4,1026.8 1238.4,1026.9 1242.4,1027.1 1246.4,1027.3 1250.3,1027.5 1254.3,1027.6 1258.3,1027.8 1262.3,1027.9 1266.3,1028.1 1270.3,1028.2 1274.3,1028.4 1278.3,1028.6 1282.3,1028.7 1286.3,1028.9 1290.3,1029 1294.3,1029.2 1298.3,1029.3 1302.3,1029.5 1306.3,1029.6 1310.3,1029.8 1314.3,1029.9 1318.3,1030.1 1322.3,1030.2 1326.3,1030.4 1330.3,1030.5 1334.3,1030.6 1338.3,1030.8 1342.3,1030.9 1346.3,1031.1 1350.3,1031.2 1354.3,1031.4 1358.3,1031.5 1362.3,1031.6 1366.3,1031.8 1370.3,1031.9 1374.3,1032 1378.2,1032.2 1382.2,1032.3 1386.2,1032.4 1390.2,1032.6 1394.2,1032.7 1398.2,1032.8 1402.2,1032.9 1406.2,1033.1 1410.2,1033.2 1414.2,1033.3 1418.2,1033.4 1422.2,1033.6 1426.2,1033.7 1430.2,1033.8 1434.2,1033.9 1438.2,1034 1442.2,1034.1 1446.2,1034.2 1450.2,1034.4 1454.2,1034.5 1458.2,1034.6 1462.2,1034.7 1466.2,1034.8 1470.2,1034.9 1474.2,1035 1478.2,1035.1 1482.2,1035.2 1486.2,1035.3 1490.2,1035.4 1494.2,1035.5 1498.2,1035.5 1502.2,1035.6 1506.2,1035.7 1510.2,1035.8 1514.2,1035.9 1518.2,1036 1522.2,1036 1526.2,1036.1 1530.2,1036.2 1534.2,1036.3 1538.2,1036.3 1541.5,1036.4"/>
<polyline class="c r" stroke-dasharray="50.5 49.5 50.5 49.5 50.5 49.5 50.5 50.9 50.5 49.5 50.5 49.5 50.5 49.5 50.5 49.5 50.5 49.5 50.5 49.5 50.5 49.5 50.5 49.5 50.5 49.5 50.5 49.5 50.5 49.5 50.5 49.5" points="172.6,1110 175.3,1107 177.9,1104 180.6,1101 183.3,1098.1 186.1,1095.1 188.8,1092.2 191.6,1089.4 194.4,1086.5 197.2,1083.6 200,1080.8 202.8,1078 205.7,1075.2 208.6,1072.5 211.5,1069.7 214.4,1066.9 217.3,1064.2 220.2,1061.4 223.2,1058.7 226.2,1056 229.2,1053.4 232.3,1050.8 235.3,1048.2 238.5,1045.8 241.6,1043.4 244.8,1041 248.1,1038.8 251.5,1036.6 254.9,1034.5 258.4,1032.5 261.9,1030.6 265.4,1028.7 269,1026.9 272.6,1025.1 276.2,1023.4 279.8,1021.6 283.4,1019.8 286.9,1017.9 290.5,1016.1 294,1014.3 297.6,1012.6 301.3,1011 305,1009.4 308.7,1008 312.5,1006.6 316.2,1005.3 320,1004 323.8,1002.7 327.7,1001.5 331.5,1000.4 335.4,999.4 339.3,998.5 343.2,997.8 347.1,997 351.1,996.4 355,995.8 359,995.3 363,994.9 367,994.5 371,994.2 374.9,993.9 378.9,993.7 382.9,993.4 386.9,993.2 390.9,993 394.9,992.8 398.9,992.6 402.9,992.4 406.9,992.3 410.9,992.1 414.9,992 418.9,992 422.9,992 426.9,992 430.9,992 434.9,992 438.9,992.1 442.9,992.1 446.9,992.1 450.9,992.1 454.9,992.2 458.9,992.2 462.9,992.2 466.9,992.3 470.9,992.4 474.9,992.5 478.9,992.7 482.9,992.8 486.9,993 490.9,993.2 494.9,993.5 498.9,993.7 502.9,994 506.8,994.2 510.8,994.5 514.8,994.8 518.8,995.2 522.8,995.5 526.8,995.8 530.8,996.1 534.8,996.5 538.8,996.8 542.8,997.2 546.7,997.5 550.7,997.8 554.7,998.2 558.7,998.5 562.7,998.8 566.7,999.2 570.7,999.5 574.7,999.8 578.6,1000.1 582.6,1000.4 586.6,1000.7 590.6,1001.1 594.6,1001.4 598.6,1001.8 602.6,1002.2 606.5,1002.5 610.5,1002.9 614.5,1003.3 618.5,1003.6 622.5,1004 626.5,1004.4 630.4,1004.8 634.4,1005.1 638.4,1005.5 642.4,1005.8 646.4,1006.2 650.4,1006.5 654.3,1006.9 658.3,1007.2 662.3,1007.5 666.3,1007.8 670.3,1008.1 674.3,1008.4 678.3,1008.7 682.3,1009 686.3,1009.3 690.2,1009.6 694.2,1009.9 698.2,1010.2 702.2,1010.5 706.2,1010.8 710.2,1011.1 714.2,1011.3 718.2,1011.6 722.2,1011.9 726.2,1012.2 730.1,1012.5 734.1,1012.7 738.1,1013 742.1,1013.3 746.1,1013.6 750.1,1013.8 754.1,1014.1 758.1,1014.4 762.1,1014.6 766.1,1014.9 770,1015.2 774,1015.5 778,1015.7 782,1016 786,1016.3 790,1016.6 794,1016.9 798,1017.2 802,1017.5 806,1017.7 810,1018 813.9,1018.3 817.9,1018.6 821.9,1018.9 825.9,1019.1 829.9,1019.4 833.9,1019.7 837.9,1019.9 841.9,1020.2 845.9,1020.4 849.9,1020.6 853.9,1020.9 857.9,1021.1 861.8,1021.3 865.8,1021.5 869.8,1021.7 873.8,1021.9 877.8,1022.1 881.8,1022.3 885.8,1022.5 889.8,1022.7 893.8,1022.9 897.8,1023.1 901.8,1023.3 905.8,1023.5 909.8,1023.7 913.8,1023.8 917.8,1024 921.8,1024.2 925.8,1024.4 929.8,1024.6 933.8,1024.7 937.7,1024.9 941.7,1025.1 945.7,1025.3 949.7,1025.4 953.7,1025.6 957.7,1025.8 961.7,1026 965.7,1026.1 969.7,1026.3 973.7,1026.5 977.7,1026.6 981.7,1026.8 985.7,1026.9 989.7,1027.1 993.7,1027.3 997.7,1027.4 1001.7,1027.6 1005.7,1027.7 1009.7,1027.9 1013.7,1028 1017.7,1028.2 1021.7,1028.3 1025.7,1028.5 1029.7,1028.6 1033.7,1028.8 1037.7,1028.9 1041.7,1029.1 1045.7,1029.2 1049.7,1029.4 1053.7,1029.5 1057.7,1029.6 1061.7,1029.8 1065.7,1029.9 1069.7,1030.1 1073.7,1030.2 1077.7,1030.3 1081.7,1030.5 1085.7,1030.6 1089.7,1030.7 1093.6,1030.9 1097.6,1031 1101.6,1031.1 1105.6,1031.3 1109.6,1031.4 1113.6,1031.5 1117.6,1031.7 1121.6,1031.8 1125.6,1031.9 1129.6,1032 1133.6,1032.2 1137.6,1032.3 1141.6,1032.4 1145.6,1032.6 1149.6,1032.7 1153.6,1032.8 1157.6,1032.9 1161.6,1033 1165.6,1033.2 1169.6,1033.3 1173.6,1033.4 1177.6,1033.5 1181.6,1033.7 1185.6,1033.8 1189.6,1033.9 1193.6,1034 1197.6,1034.2 1201.6,1034.3 1205.6,1034.4 1209.6,1034.5 1213.6,1034.6 1217.6,1034.7 1221.6,1034.9 1225.6,1035 1229.6,1035.1 1233.6,1035.2 1237.6,1035.3 1241.6,1035.4 1245.6,1035.6 1249.6,1035.7 1253.6,1035.8 1257.6,1035.9 1261.6,1036 1265.6,1036.1 1269.6,1036.2 1273.6,1036.3 1277.6,1036.4 1281.6,1036.5 1285.6,1036.6 1289.6,1036.7 1293.6,1036.8 1297.6,1036.9 1301.6,1037 1305.6,1037.1 1309.6,1037.2 1313.6,1037.3 1317.6,1037.4 1321.6,1037.5 1325.6,1037.5 1329.6,1037.6 1333.6,1037.7 1337.6,1037.8 1341.6,1037.9 1345.6,1037.9 1349.6,1038 1353.6,1038.1 1357.5,1038.2 1361.5,1038.2 1365.5,1038.3 1369.5,1038.4 1373.5,1038.4 1377.5,1038.5 1381.5,1038.6 1385.5,1038.6 1389.5,1038.7 1393.5,1038.8 1397.5,1038.8 1401.5,1038.9 1405.5,1038.9 1409.5,1039 1413.5,1039.1 1417.5,1039.1 1421.5,1039.2 1425.5,1039.2 1429.5,1039.3 1433.5,1039.4 1437.5,1039.4 1441.5,1039.5 1445.5,1039.5 1449.5,1039.6 1453.5,1039.6 1457.5,1039.7 1461.5,1039.7 1465.5,1039.8 1469.5,1039.8 1473.5,1039.9 1477.5,1039.9 1481.5,1040 1485.5,1040 1489.5,1040.1 1493.5,1040.1 1497.5,1040.1 1501.5,1040.2 1505.5,1040.2 1509.5,1040.3 1513.5,1040.3 1517.5,1040.3 1521.5,1040.4 1525.5,1040.4 1529.5,1040.4 1533.5,1040.4 1537.5,1040.5 1541.5,1040.5"/>
<polyline class="c r" stroke-dasharray="50.5 49.5 50.5 49.5 50.5 49.5 50.5 49.3 50.5 49.5 50.5 49.5 50.5 49.5 50.5 49.5 50.5 49.5 50.5 49.5 50.5 49.5 50.5 49.5 50.5 49.5 50.5 49.5 50.5 49.5" points="172.6,1096.5 175.2,1093.4 177.9,1090.3 180.6,1087.3 183.4,1084.4 186.2,1081.5 189,1078.7 191.9,1075.9 194.8,1073.2 197.8,1070.5 200.8,1067.9 203.9,1065.4 206.9,1062.9 210.1,1060.5 213.3,1058.2 216.6,1056 219.9,1053.7 223.3,1051.6 226.7,1049.5 230.1,1047.4 233.6,1045.3 237.1,1043.3 240.6,1041.3 244,1039.3 247.5,1037.3 251,1035.3 254.5,1033.4 258,1031.5 261.6,1029.7 265.2,1028 268.9,1026.4 272.6,1024.9 276.3,1023.4 280,1022 283.8,1020.6 287.6,1019.3 291.4,1018.1 295.2,1017 299.1,1016 303,1015.1 306.9,1014.2 310.8,1013.4 314.8,1012.7 318.7,1012.1 322.7,1011.7 326.7,1011.4 330.7,1011.1 334.7,1010.8 338.7,1010.5 342.7,1010.3 346.7,1010.2 350.7,1010 354.7,1009.9 358.7,1009.7 362.7,1009.6 366.7,1009.5 370.7,1009.5 374.7,1009.5 378.7,1009.5 382.7,1009.5 386.7,1009.5 390.7,1009.5 394.7,1009.5 398.7,1009.5 402.7,1009.5 406.7,1009.6 410.7,1009.6 414.7,1009.7 418.7,1009.8 422.7,1009.9 426.6,1010 430.6,1010.2 434.6,1010.3 438.6,1010.5 442.6,1010.6 446.6,1010.8 450.6,1011 454.6,1011.1 458.6,1011.3 462.6,1011.5 466.6,1011.7 470.6,1011.8 474.6,1012 478.6,1012.1 482.6,1012.3 486.6,1012.5 490.6,1012.6 494.6,1012.8 498.6,1013 502.6,1013.1 506.6,1013.3 510.6,1013.5 514.6,1013.7 518.6,1013.9 522.6,1014.1 526.6,1014.2 530.6,1014.4 534.6,1014.6 538.6,1014.8 542.5,1015 546.5,1015.2 550.5,1015.4 554.5,1015.6 558.5,1015.8 562.5,1016 566.5,1016.2 570.5,1016.4 574.5,1016.6 578.5,1016.8 582.5,1017 586.5,1017.2 590.5,1017.4 594.5,1017.6 598.5,1017.8 602.5,1018 606.5,1018.3 610.5,1018.5 614.5,1018.7 618.5,1018.9 622.4,1019.1 626.4,1019.3 630.4,1019.5 634.4,1019.8 638.4,1020 642.4,1020.2 646.4,1020.4 650.4,1020.6 654.4,1020.9 658.4,1021.1 662.4,1021.3 666.4,1021.5 670.4,1021.8 674.4,1022 678.4,1022.2 682.4,1022.5 686.3,1022.7 690.3,1022.9 694.3,1023.2 698.3,1023.4 702.3,1023.6 706.3,1023.9 710.3,1024.1 714.3,1024.4 718.3,1024.6 722.3,1024.8 726.3,1025.1 730.3,1025.3 734.3,1025.6 738.3,1025.8 742.2,1026.1 746.2,1026.3 750.2,1026.6 754.2,1026.8 758.2,1027 762.2,1027.3 766.2,1027.5 770.2,1027.8 774.2,1028 778.2,1028.3 782.2,1028.5 786.2,1028.8 790.2,1029 794.1,1029.3 798.1,1029.5 802.1,1029.8 806.1,1030.1 810.1,1030.4 814.1,1030.7 818.1,1030.9 822.1,1031.2 826.1,1031.5 830.1,1031.8 834.1,1032 838.1,1032.3 842,1032.5 846,1032.7 850,1032.9 854,1033.1 858,1033.2 862,1033.4 866,1033.5 870,1033.6 874,1033.7 878,1033.8 882,1033.9 886,1034 890,1034.1 894,1034.2 898,1034.3 902,1034.4 906,1034.4 910,1034.5 914,1034.6 918,1034.7 922,1034.8 926,1034.8 930,1034.9 934,1035 938,1035.1 942,1035.1 946,1035.2 950,1035.3 954,1035.3 958,1035.4 962,1035.4 966,1035.5 970,1035.6 974,1035.6 978,1035.7 982,1035.7 986,1035.8 990,1035.8 994,1035.9 998,1035.9 1002,1036 1006,1036 1010,1036.1 1014,1036.1 1018,1036.2 1022,1036.2 1026,1036.3 1030,1036.3 1034,1036.4 1038,1036.4 1042,1036.5 1046,1036.5 1050,1036.6 1054,1036.6 1058,1036.7 1062,1036.7 1066,1036.7 1070,1036.8 1074,1036.8 1078,1036.9 1082,1036.9 1086,1037 1090,1037 1094,1037.1 1098,1037.1 1102,1037.2 1106,1037.2 1110,1037.3 1114,1037.3 1118,1037.4 1122,1037.4 1126,1037.5 1130,1037.5 1134,1037.6 1138,1037.7 1142,1037.7 1146,1037.8 1150,1037.8 1154,1037.9 1158,1038 1162,1038 1166,1038.1 1170,1038.2 1174,1038.2 1178,1038.3 1182,1038.4 1186,1038.5 1190,1038.5 1194,1038.6 1198,1038.7 1202,1038.8 1206,1038.8 1210,1038.9 1214,1039 1218,1039.1 1222,1039.2 1226,1039.2 1230,1039.3 1234,1039.4 1238,1039.5 1242,1039.6 1246,1039.6 1250,1039.7 1254,1039.8 1258,1039.9 1262,1040 1266,1040 1270,1040.1 1274,1040.2 1278,1040.3 1282,1040.3 1286,1040.4 1290,1040.5 1294,1040.6 1298,1040.6 1302,1040.7 1306,1040.8 1310,1040.8 1314,1040.9 1318,1041 1322,1041 1326,1041.1 1330,1041.1 1334,1041.2 1338,1041.3 1342,1041.3 1346,1041.4 1350,1041.4 1354,1041.4 1358,1041.5 1362,1041.5 1366,1041.6 1370,1041.6 1374,1041.6 1378,1041.7 1382,1041.7 1386,1041.7 1390,1041.8 1394,1041.8 1398,1041.9 1402,1041.9 1406,1041.9 1410,1042 1414,1042 1418,1042 1422,1042.1 1426,1042.1 1430,1042.1 1434,1042.2 1437.9,1042.2 1441.9,1042.2 1445.9,1042.2 1449.9,1042.3 1453.9,1042.3 1457.9,1042.3 1461.9,1042.4 1465.9,1042.4 1469.9,1042.4 1473.9,1042.4 1477.9,1042.5 1481.9,1042.5 1485.9,1042.5 1489.9,1042.5 1493.9,1042.5 1497.9,1042.6 1501.9,1042.6 1505.9,1042.6 1509.9,1042.6 1513.9,1042.6 1517.9,1042.6 1521.9,1042.7 1526,1042.7 1530,1042.7 1534,1042.7 1538,1042.7 1541.5,1042.7"/>
<polyline class="c r" stroke-dasharray="50.5 49.5 50.5 49.5 50.5 49.5 50.5 50.1 50.5 49.5 50.5 49.5 50.5 49.5 50.5 49.5 50.5 49.5 50.5 49.5 50.5 49.5 50.5 49.5 50.5 49.5 50.5 49.5 50.5 49.5" points="172.6,1091 175.2,1087.8 177.8,1084.7 180.5,1081.6 183.2,1078.6 186,1075.7 188.8,1072.8 191.7,1070 194.6,1067.3 197.6,1064.6 200.6,1062 203.7,1059.6 206.8,1057.2 209.9,1054.8 213.1,1052.6 216.4,1050.4 219.8,1048.2 223.2,1046.1 226.7,1044.1 230.2,1042.1 233.8,1040.2 237.4,1038.3 241,1036.5 244.6,1034.8 248.3,1033.2 251.9,1031.6 255.7,1030.2 259.4,1028.8 263.2,1027.5 267.1,1026.4 270.9,1025.2 274.8,1024.1 278.7,1023.2 282.6,1022.6 286.5,1022.1 290.5,1021.6 294.5,1021.2 298.5,1020.8 302.5,1020.3 306.4,1019.8 310.4,1019.2 314.4,1018.7 318.3,1018.2 322.3,1017.7 326.3,1017.4 330.3,1017.1 334.3,1016.9 338.3,1016.7 342.3,1016.5 346.3,1016.3 350.3,1016.2 354.3,1016.1 358.3,1016.1 362.3,1016 366.3,1016 370.3,1015.9 374.3,1015.9 378.3,1015.9 382.3,1015.9 386.3,1016 390.3,1016 394.3,1016.1 398.3,1016.2 402.3,1016.2 406.3,1016.3 410.3,1016.4 414.3,1016.5 418.3,1016.6 422.3,1016.7 426.3,1016.8 430.3,1016.9 434.3,1017 438.3,1017.2 442.2,1017.3 446.2,1017.4 450.2,1017.6 454.2,1017.7 458.2,1017.9 462.2,1018 466.2,1018.2 470.2,1018.3 474.2,1018.5 478.2,1018.6 482.2,1018.8 486.2,1019 490.2,1019.1 494.2,1019.3 498.2,1019.5 502.2,1019.7 506.2,1019.9 510.2,1020.1 514.2,1020.3 518.2,1020.6 522.2,1020.8 526.2,1021 530.2,1021.2 534.2,1021.5 538.1,1021.7 542.1,1021.9 546.1,1022.1 550.1,1022.4 554.1,1022.6 558.1,1022.8 562.1,1023 566.1,1023.3 570.1,1023.5 574.1,1023.7 578.1,1023.9 582.1,1024.1 586.1,1024.3 590.1,1024.5 594.1,1024.8 598.1,1025 602.1,1025.2 606,1025.4 610,1025.6 614,1025.9 618,1026.1 622,1026.3 626,1026.5 630,1026.8 634,1027 638,1027.2 642,1027.4 646,1027.6 650,1027.8 654,1028 658,1028.2 662,1028.3 666,1028.5 670,1028.7 674,1028.8 678,1029 682,1029.1 686,1029.2 689.9,1029.4 693.9,1029.5 697.9,1029.6 701.9,1029.7 705.9,1029.8 709.9,1029.9 713.9,1030 717.9,1030.1 721.9,1030.2 725.9,1030.3 729.9,1030.4 733.9,1030.5 737.9,1030.6 741.9,1030.7 745.9,1030.8 749.9,1030.9 753.9,1031 757.9,1031.1 761.9,1031.2 765.9,1031.3 769.9,1031.4 773.9,1031.5 777.9,1031.6 781.9,1031.8 785.9,1031.9 789.9,1032 793.9,1032.2 797.9,1032.4 801.9,1032.5 805.9,1032.7 809.9,1032.9 813.9,1033.1 817.9,1033.2 821.9,1033.4 825.9,1033.6 829.9,1033.8 833.9,1033.9 837.9,1034.1 841.9,1034.2 845.9,1034.4 849.9,1034.5 853.9,1034.6 857.9,1034.7 861.9,1034.8 865.9,1034.9 869.9,1035 873.9,1035.1 877.9,1035.2 881.9,1035.3 885.8,1035.4 889.8,1035.5 893.8,1035.6 897.8,1035.7 901.8,1035.7 905.8,1035.8 909.8,1035.9 913.8,1036 917.8,1036.1 921.8,1036.1 925.8,1036.2 929.8,1036.3 933.8,1036.4 937.8,1036.4 941.8,1036.5 945.8,1036.6 949.8,1036.7 953.8,1036.7 957.8,1036.8 961.8,1036.9 965.8,1036.9 969.8,1037 973.8,1037.1 977.8,1037.1 981.8,1037.2 985.8,1037.3 989.8,1037.3 993.8,1037.4 997.8,1037.4 1001.8,1037.5 1005.8,1037.6 1009.8,1037.6 1013.8,1037.7 1017.8,1037.7 1021.8,1037.8 1025.8,1037.8 1029.8,1037.9 1033.8,1037.9 1037.8,1038 1041.8,1038.1 1045.8,1038.1 1049.8,1038.2 1053.8,1038.2 1057.8,1038.3 1061.8,1038.3 1065.8,1038.4 1069.8,1038.4 1073.8,1038.5 1077.8,1038.5 1081.8,1038.6 1085.8,1038.6 1089.8,1038.7 1093.8,1038.7 1097.8,1038.8 1101.8,1038.8 1105.8,1038.9 1109.8,1038.9 1113.8,1039 1117.8,1039 1121.8,1039.1 1125.8,1039.1 1129.8,1039.2 1133.8,1039.3 1137.8,1039.3 1141.8,1039.4 1145.8,1039.4 1149.8,1039.5 1153.8,1039.5 1157.8,1039.6 1161.8,1039.6 1165.8,1039.7 1169.8,1039.7 1173.8,1039.8 1177.8,1039.8 1181.8,1039.9 1185.8,1040 1189.8,1040 1193.8,1040.1 1197.8,1040.1 1201.8,1040.2 1205.8,1040.2 1209.8,1040.3 1213.8,1040.3 1217.8,1040.4 1221.8,1040.4 1225.8,1040.5 1229.8,1040.6 1233.8,1040.6 1237.8,1040.7 1241.8,1040.7 1245.8,1040.8 1249.8,1040.8 1253.8,1040.9 1257.8,1040.9 1261.8,1041 1265.8,1041 1269.8,1041.1 1273.8,1041.1 1277.8,1041.2 1281.8,1041.2 1285.8,1041.3 1289.8,1041.3 1293.8,1041.4 1297.8,1041.4 1301.8,1041.5 1305.8,1041.5 1309.8,1041.5 1313.8,1041.6 1317.8,1041.6 1321.8,1041.7 1325.8,1041.7 1329.8,1041.7 1333.8,1041.8 1337.8,1041.8 1341.8,1041.9 1345.8,1041.9 1349.8,1041.9 1353.8,1042 1357.8,1042 1361.8,1042 1365.8,1042 1369.8,1042.1 1373.8,1042.1 1377.8,1042.1 1381.8,1042.2 1385.8,1042.2 1389.8,1042.2 1393.8,1042.2 1397.8,1042.3 1401.8,1042.3 1405.8,1042.3 1409.8,1042.4 1413.8,1042.4 1417.8,1042.4 1421.8,1042.4 1425.8,1042.5 1429.8,1042.5 1433.8,1042.5 1437.8,1042.5 1441.8,1042.6 1445.8,1042.6 1449.8,1042.6 1453.8,1042.6 1457.8,1042.7 1461.8,1042.7 1465.8,1042.7 1469.8,1042.7 1473.8,1042.7 1477.8,1042.8 1481.8,1042.8 1485.8,1042.8 1489.8,1042.8 1493.8,1042.8 1497.8,1042.9 1501.8,1042.9 1505.8,1042.9 1509.8,1042.9 1513.8,1042.9 1517.8,1042.9 1521.8,1042.9 1525.8,1043 1529.8,1043 1533.8,1043 1537.8,1043 1541.5,1043"/>
<g stroke="#000" stroke-width="9.2" fill="#fff">
<rect x="353.6" y="101.6" width="1037.7" height="209.7"/>
<rect x="575.8" y="414.9" width="547.5" height="102.2"/>
</g>
<line class="ce" x1="394.4" y1="840.2" x2="238.8" y2="981.5" stroke="#000" stroke-width="14"/><polygon class="ce" fill="#000" stroke="#000" stroke-width="2" stroke-linejoin="round" points="216.6,1001.7 236.6,962.7 239.5,980.9 257.3,985.5"/>
<line class="ce" x1="519.9" y1="965.8" x2="378.4" y2="1073.4" stroke="#000" stroke-width="14"/><polygon class="ce" fill="#000" stroke="#000" stroke-width="2" stroke-linejoin="round" points="354.5,1091.5 377.8,1054.5 379.2,1072.8 396.5,1079"/>
<polygon class="ce" fill="#0000ff" points="953.3,727 1086.1,730 1086.1,742.9 953.3,739.7"/>
<polygon class="ce" fill="#ff0000" points="953.3,783 1076.9,786.4 1076.9,798.9 953.3,796.1"/>
<text class="tk" x="172" y="1192.3" text-anchor="middle">0</text>
<text transform="translate(387.37 1192.00) scale(0.7670 1)" style="font-family:'Liberation Sans','DejaVu Sans',sans-serif;font-style:normal;font-size:46.55px;fill:#262626;stroke:#fff;stroke-width:0.3px;">1</text>
<text class="tk" x="628.3" y="1192.3" text-anchor="middle">2</text>
<text class="tk" x="856.5" y="1192.3" text-anchor="middle">3</text>
<text class="tk" x="1084.7" y="1192.3" text-anchor="middle">4</text>
<text class="tk" x="1312.8" y="1192.3" text-anchor="middle">5</text>
<text class="tk" x="1541" y="1192.3" text-anchor="middle">6</text>
<text class="tk" x="153.4" y="1063.7" text-anchor="end">0</text>
<text class="tk" x="153.4" y="864.5" text-anchor="end">0.2</text>
<text class="tk" x="153.4" y="665.4" text-anchor="end">0.4</text>
<text class="tk" x="153.4" y="466.2" text-anchor="end">0.6</text>
<text class="tk" x="153.4" y="267.1" text-anchor="end">0.8</text>
<text transform="translate(125.77 67.00) scale(0.7742 1)" style="font-family:'Liberation Sans','DejaVu Sans',sans-serif;font-style:normal;font-size:46.11px;fill:#262626;stroke:#fff;stroke-width:0.3px;">1</text>
<text transform="translate(844.05 1263.00) scale(0.8653 1)" style="font-family:'DejaVu Serif','Liberation Serif',serif;font-style:italic;font-size:48.68px;fill:#262626;">ξ</text>
<g transform="rotate(-90)">
<text transform="translate(-636.04 63.66) scale(0.8964 1)" style="font-family:'Liberation Sans','DejaVu Sans',sans-serif;font-style:italic;font-size:49.33px;fill:#262626;">ϕ</text>
<text transform="translate(-602.12 62.67) scale(0.9153 1)" style="font-family:'Liberation Sans','DejaVu Sans',sans-serif;font-style:normal;font-size:50.72px;fill:#262626;stroke:#fff;stroke-width:1px;">(</text>
<text transform="translate(-583.75 64.03) scale(0.8894 1)" style="font-family:'DejaVu Serif','Liberation Serif',serif;font-style:italic;font-size:47.55px;fill:#262626;">ξ</text>
<text transform="translate(-557.12 62.67) scale(0.9153 1)" style="font-family:'Liberation Sans','DejaVu Sans',sans-serif;font-style:normal;font-size:50.72px;fill:#262626;stroke:#fff;stroke-width:1px;">)</text>
</g>
<text class="an" x="375.9" y="164.1">Pr = 0.773, B</text>
<text class="sb" x="657.5" y="186">m</text>
<text class="an" x="691.4" y="164.1">= 0.1, M=2,Sc = 5, Kc = D</text>
<text class="sb" x="1241" y="186">f</text>
<text class="an" x="376.1" y="258">=Sr = 0.1,</text>
<text transform="translate(615.02 257.72) scale(1.1155 1)" style="font-family:'Liberation Sans','DejaVu Sans',sans-serif;font-style:italic;font-size:45.64px;fill:#000;">β</text>
<text transform="translate(644.63 231.93) scale(1.1416 1)" style="font-family:'Liberation Sans','DejaVu Sans',sans-serif;font-style:normal;font-size:30.00px;fill:#000;">*</text>
<text class="an" x="659.8" y="258">=1,T</text>
<text class="sb" x="757" y="279">p</text>
<text class="an" x="782" y="258">=0.1,</text>
<text transform="translate(904.91 258.90) scale(1.0707 1)" style="font-family:'DejaVu Sans','Liberation Sans',sans-serif;font-style:italic;font-size:44.21px;fill:#000;">λ</text>
<text class="an" x="945" y="258">= 0.2,</text>
<text transform="translate(1078.84 258.33) scale(1.0231 1)" style="font-family:'DejaVu Sans','Liberation Sans',sans-serif;font-style:italic;font-size:38.04px;fill:#000;">σ</text>
<text class="sb" x="1109.5" y="279">f</text>
<text class="an" x="1136" y="258">= 0.2,</text>
<text class="an" x="597.2" y="476.9">Le= 3.0, 5.0, 8.0, 10.0</text>
<text class="lg" x="1102.6" y="746.6">Active control</text>
<text class="lg" x="1104" y="812.4">Passive control</text>
</svg>
</body></html>
